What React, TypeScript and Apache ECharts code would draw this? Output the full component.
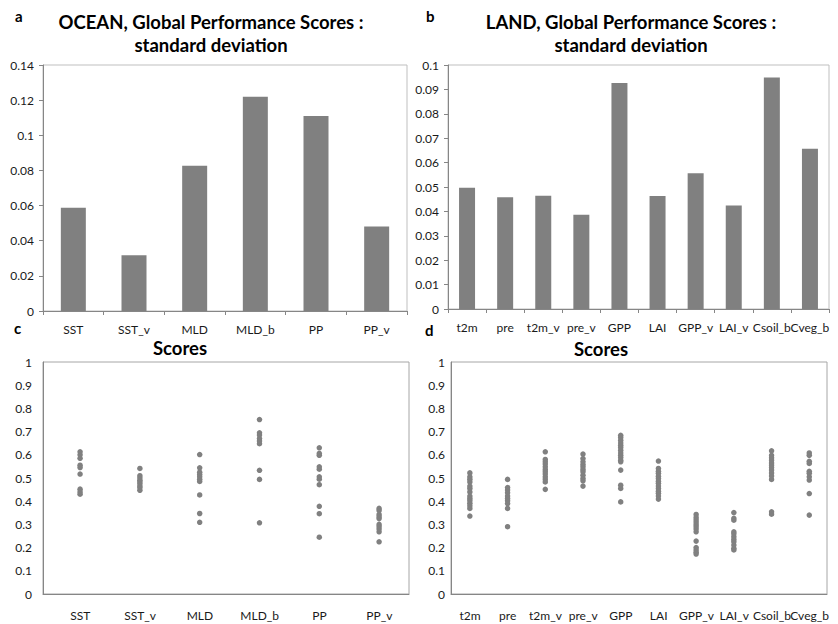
import React, { useEffect, useRef } from "react";
import * as echarts from "echarts";

// Variable names
const oceanVars = ["SST", "SST_v", "MLD", "MLD_b", "PP", "PP_v"];
const landVars = ["t2m", "pre", "t2m_v", "pre_v", "GPP", "LAI", "GPP_v", "LAI_v", "Csoil_b", "Cveg_b"];

// Standard deviation of the global performance scores
const oceanStd = [0.0588, 0.0317, 0.0826, 0.1219, 0.111, 0.0481];
const landStd = [0.0497, 0.0458, 0.0464, 0.0386, 0.0926, 0.0463, 0.0556, 0.0424, 0.0949, 0.0657];

// Individual model scores, ocean
const scoreSST = [0.613, 0.6, 0.585, 0.555, 0.545, 0.517, 0.452, 0.44, 0.43];
const scoreSSTv = [0.541, 0.51, 0.5, 0.49, 0.483, 0.475, 0.465, 0.458, 0.447];
const scoreMLD = [0.601, 0.544, 0.525, 0.515, 0.505, 0.495, 0.485, 0.427, 0.347, 0.309];
const scoreMLDb = [0.752, 0.695, 0.685, 0.67, 0.66, 0.648, 0.533, 0.494, 0.307];
const scorePP = [0.63, 0.606, 0.598, 0.548, 0.538, 0.505, 0.495, 0.471, 0.378, 0.346, 0.245];
const scorePPv = [0.369, 0.36, 0.343, 0.333, 0.325, 0.3, 0.29, 0.28, 0.268, 0.225];

// Individual model scores, land
const scoreT2m = [0.522, 0.505, 0.495, 0.483, 0.465, 0.455, 0.44, 0.422, 0.412, 0.402, 0.391, 0.38, 0.369, 0.336];
const scorePre = [0.494, 0.459, 0.448, 0.436, 0.422, 0.412, 0.402, 0.39, 0.369, 0.29];
const scoreT2mv = [0.613, 0.58, 0.57, 0.56, 0.548, 0.537, 0.527, 0.517, 0.505, 0.495, 0.483, 0.451];
const scorePrev = [0.603, 0.584, 0.57, 0.558, 0.548, 0.537, 0.527, 0.512, 0.498, 0.488, 0.465];
const scoreGPP = [0.684, 0.675, 0.663, 0.651, 0.641, 0.632, 0.62, 0.608, 0.598, 0.588, 0.577, 0.57, 0.534, 0.469, 0.455, 0.397];
const scoreLAI = [0.573, 0.541, 0.529, 0.52, 0.508, 0.498, 0.486, 0.477, 0.465, 0.455, 0.443, 0.434, 0.422, 0.409];
const scoreGPPv = [0.343, 0.33, 0.32, 0.31, 0.3, 0.29, 0.28, 0.268, 0.228, 0.2, 0.19, 0.18, 0.172];
const scoreLAIv = [0.351, 0.326, 0.318, 0.268, 0.26, 0.247, 0.235, 0.225, 0.211, 0.197, 0.19];
const scoreCsoilb = [0.617, 0.598, 0.587, 0.577, 0.565, 0.555, 0.545, 0.534, 0.522, 0.509, 0.494, 0.354, 0.344];
const scoreCvegb = [0.608, 0.598, 0.572, 0.563, 0.529, 0.52, 0.505, 0.491, 0.433, 0.34];

const oceanScores = [scoreSST, scoreSSTv, scoreMLD, scoreMLDb, scorePP, scorePPv];
const landScores = [scoreT2m, scorePre, scoreT2mv, scorePrev, scoreGPP, scoreLAI, scoreGPPv, scoreLAIv, scoreCsoilb, scoreCvegb];

const FONT = "Lato";
const GRAY = "#808080";
const AXIS = "#868686";
const BORDER = "#bfbfbf";
const TEXT = "#1a1a1a";

function toPoints(groups: number[][]): number[][] {
  const pts: number[][] = [];
  groups.forEach((g, i) => g.forEach((v) => pts.push([i + 1, v])));
  return pts;
}

const labelStyle = { color: TEXT, fontFamily: FONT, fontSize: 12 };

function barX(gridIndex: number, cats: string[]) {
  return {
    type: "category",
    gridIndex,
    data: cats,
    axisLine: { show: true, lineStyle: { color: AXIS } },
    axisTick: { show: true, length: 4, lineStyle: { color: AXIS } },
    axisLabel: { ...labelStyle, interval: 0, hideOverlap: false, margin: 12 },
    splitLine: { show: false },
  };
}

function barY(gridIndex: number, max: number, interval: number) {
  return {
    type: "value",
    gridIndex,
    min: 0,
    max,
    interval,
    axisLine: { show: true, lineStyle: { color: AXIS } },
    axisTick: { show: true, inside: false, length: 4, lineStyle: { color: AXIS } },
    axisLabel: { ...labelStyle, margin: 9 },
    splitLine: { show: false },
  };
}

// Numeric x axis carrying the score points (variable index 1..n)
function scatterX(gridIndex: number, min: number, max: number) {
  return {
    type: "value",
    gridIndex,
    min,
    max,
    axisLine: { show: true, onZero: false, lineStyle: { color: AXIS } },
    axisTick: { show: false },
    axisLabel: { show: false },
    splitLine: { show: false },
  };
}

// Category axis on an overlay grid whose bands are centred on the score columns
function nameX(gridIndex: number, cats: string[]) {
  return {
    type: "category",
    gridIndex,
    data: cats,
    axisLine: { show: false },
    axisTick: { show: false },
    axisLabel: { ...labelStyle, interval: 0, hideOverlap: false, margin: 15 },
    splitLine: { show: false },
  };
}

function scatterY(gridIndex: number, margin: number) {
  return {
    type: "value",
    gridIndex,
    min: 0,
    max: 1,
    interval: 0.1,
    axisLine: { show: true, lineStyle: { color: AXIS } },
    axisTick: { show: false },
    axisLabel: { ...labelStyle, margin },
    splitLine: { show: false },
  };
}

function hiddenY(gridIndex: number) {
  return { type: "value", gridIndex, show: false, min: 0, max: 1 };
}

export default function App() {
  const ref = useRef<HTMLDivElement>(null);

  useEffect(() => {
    if (!ref.current) return;
    const chart = echarts.init(ref.current, undefined, { renderer: "svg" });

    const titleStyle = { fontFamily: FONT, fontWeight: "bold", fontSize: 18.5, fill: "#000", textAlign: "center", lineHeight: 23 };
    const letterStyle = { fontFamily: FONT, fontWeight: "bold", fontSize: 15, fill: "#000" };

    chart.setOption({
      animation: false,
      backgroundColor: "#fff",
      grid: [
        { left: 43, top: 65, width: 364, height: 246, show: true, borderColor: BORDER, borderWidth: 1, backgroundColor: "transparent" },
        { left: 448, top: 65, width: 381, height: 244, show: true, borderColor: BORDER, borderWidth: 1, backgroundColor: "transparent" },
        { left: 43, top: 362, width: 366, height: 232, show: true, borderColor: "#a6a6a6", borderWidth: 1, backgroundColor: "transparent" },
        { left: 451, top: 362, width: 376, height: 232, show: true, borderColor: "#a6a6a6", borderWidth: 1, backgroundColor: "transparent" },
        { left: 50.4, top: 362, width: 358.8, height: 232, show: false },
        { left: 451.1, top: 362, width: 377.4, height: 232, show: false },
      ],
      xAxis: [
        barX(0, oceanVars),
        barX(1, landVars),
        scatterX(2, 0.38, 6.5),
        scatterX(3, 0.5, 10.47),
        nameX(4, oceanVars),
        nameX(5, landVars),
      ],
      yAxis: [barY(0, 0.14, 0.02), barY(1, 0.1, 0.01), scatterY(2, 11), scatterY(3, 6), hiddenY(4), hiddenY(5)],
      series: [
        { type: "bar", xAxisIndex: 0, yAxisIndex: 0, data: oceanStd, barWidth: 25, itemStyle: { color: GRAY } },
        { type: "bar", xAxisIndex: 1, yAxisIndex: 1, data: landStd, barWidth: 16, itemStyle: { color: GRAY } },
        { type: "scatter", xAxisIndex: 2, yAxisIndex: 2, data: toPoints(oceanScores), symbolSize: 5.5, itemStyle: { color: GRAY, opacity: 1 } },
        { type: "scatter", xAxisIndex: 3, yAxisIndex: 3, data: toPoints(landScores), symbolSize: 5.5, itemStyle: { color: GRAY, opacity: 1 } },
      ],
      graphic: [
        { type: "text", left: 15, top: 8, style: { ...letterStyle, text: "a" } },
        { type: "text", left: 426, top: 8, style: { ...letterStyle, text: "b" } },
        { type: "text", left: 14, top: 320, style: { ...letterStyle, text: "c" } },
        { type: "text", left: 425, top: 322, style: { ...letterStyle, text: "d" } },
        { type: "text", x: 211, y: 10, style: { ...titleStyle, text: "OCEAN, Global Performance Scores :\nstandard deviation" } },
        { type: "text", x: 631, y: 10, style: { ...titleStyle, text: "LAND, Global Performance Scores :\nstandard deviation" } },
        { type: "text", x: 180, y: 336, style: { ...titleStyle, text: "Scores" } },
        { type: "text", x: 601, y: 337, style: { ...titleStyle, text: "Scores" } },
      ],
    });

    return () => chart.dispose();
  }, []);

  return <div ref={ref} style={{ position: "absolute", left: 0, top: 0, width: 838, height: 624 }} />;
}
